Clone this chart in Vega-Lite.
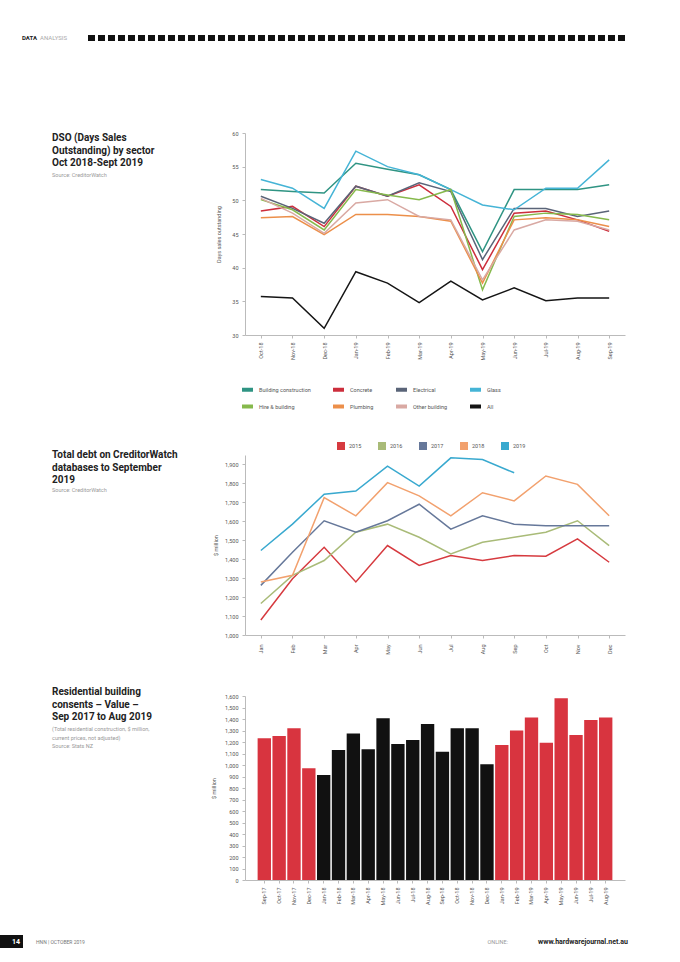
{
  "$schema": "https://vega.github.io/schema/vega-lite/v6.json",
  "background": "white",
  "padding": 0,
  "bounds": "flush",
  "align": "each",
  "spacing": 0,
  "columns": 2,
  "resolve": {"scale": {"x": "independent", "y": "independent", "color": "independent"}, "legend": {"color": "independent"}},
  "config": {
    "font": "Roboto",
    "view": {"stroke": null},
    "axis": {"labelFont": "Roboto", "labelFontSize": 5.5, "labelColor": "#555", "titleFont": "Roboto", "titleFontSize": 5.5, "titleFontWeight": "normal", "titleColor": "#555", "domainColor": "#bbb", "tickColor": "#bbb", "tickSize": 3, "grid": false},
    "legend": {"labelFont": "Roboto", "labelFontSize": 5.5, "labelColor": "#555"}
  },
  "concat": [
    {
      "width": 245, "height": 133,
      "layer": [
        {"data": {"values": [{"t": "DATA"}]},
         "mark": {"type": "text", "align": "left", "baseline": "middle", "fontSize": 6, "fontWeight": "bold", "color": "#222"},
         "encoding": {"x": {"datum": 22, "type": "quantitative", "scale": {"domain": [0, 245], "nice": false, "zero": false}, "axis": null},
                      "y": {"datum": 38, "type": "quantitative", "scale": {"domain": [0, 133], "nice": false, "zero": false, "reverse": true}, "axis": null},
                      "text": {"field": "t"}}},
        {"data": {"values": [{"t": "ANALYSIS"}]},
         "mark": {"type": "text", "align": "left", "baseline": "middle", "fontSize": 6, "color": "#aaa"},
         "encoding": {"x": {"datum": 40, "type": "quantitative"}, "y": {"datum": 38, "type": "quantitative"}, "text": {"field": "t"}}}
      ]
    },
    {
      "width": 380, "height": 133,
      "data": {"values": [{"k": "bar"}]},
      "mark": {"type": "rule", "strokeWidth": 6, "strokeDash": [7, 3], "color": "#111"},
      "encoding": {"x": {"datum": -157, "type": "quantitative", "scale": {"domain": [0, 380], "nice": false, "zero": false}, "axis": null}, "x2": {"datum": 383},
                   "y": {"datum": 38, "type": "quantitative", "scale": {"domain": [0, 133], "nice": false, "zero": false, "reverse": true}, "axis": null}}
    },
    {
      "width": 245, "height": 322,
      "layer": [
        {"data": {"values": [{"t": "DSO (Days Sales\nOutstanding) by sector\nOct 2018-Sept 2019"}]},
         "mark": {"type": "text", "align": "left", "baseline": "top", "fontSize": 10, "fontWeight": "bold", "lineBreak": "\n", "lineHeight": 12.5, "color": "#222"},
         "encoding": {"x": {"datum": 52, "type": "quantitative", "scale": {"domain": [0, 245], "nice": false, "zero": false}, "axis": null},
                      "y": {"datum": 0, "type": "quantitative", "scale": {"domain": [0, 322], "nice": false, "zero": false, "reverse": true}, "axis": null},
                      "text": {"field": "t"}}},
        {"data": {"values": [{"t": "Source: CreditorWatch"}]},
         "mark": {"type": "text", "align": "left", "baseline": "top", "fontSize": 5.5, "color": "#999"},
         "encoding": {"x": {"datum": 52, "type": "quantitative"}, "y": {"datum": 40, "type": "quantitative"}, "text": {"field": "t"}}}
      ]
    },
    {
      "width": 380, "height": 202,
      "data": {"values": [
        {"month": "Oct-18", "Building construction": 51.6, "Concrete": 48.4, "Electrical": 50.6, "Glass": 53.1, "Hire & building": 50.1, "Plumbing": 47.4, "Other building": 50.3, "All": 35.7},
        {"month": "Nov-18", "Building construction": 51.3, "Concrete": 49.1, "Electrical": 48.8, "Glass": 51.8, "Hire & building": 48.6, "Plumbing": 47.6, "Other building": 48.1, "All": 35.5},
        {"month": "Dec-18", "Building construction": 51.1, "Concrete": 46.1, "Electrical": 46.6, "Glass": 48.8, "Hire & building": 45.6, "Plumbing": 44.9, "Other building": 45.1, "All": 31.0},
        {"month": "Jan-19", "Building construction": 55.5, "Concrete": 52.1, "Electrical": 52.1, "Glass": 57.3, "Hire & building": 51.6, "Plumbing": 47.9, "Other building": 49.6, "All": 39.4},
        {"month": "Feb-19", "Building construction": 54.6, "Concrete": 50.6, "Electrical": 50.6, "Glass": 55.0, "Hire & building": 50.8, "Plumbing": 47.9, "Other building": 50.1, "All": 37.7},
        {"month": "Mar-19", "Building construction": 53.8, "Concrete": 52.3, "Electrical": 52.6, "Glass": 53.8, "Hire & building": 50.1, "Plumbing": 47.6, "Other building": 47.6, "All": 34.8},
        {"month": "Apr-19", "Building construction": 51.6, "Concrete": 49.1, "Electrical": 51.3, "Glass": 51.6, "Hire & building": 51.6, "Plumbing": 46.9, "Other building": 47.1, "All": 38.0},
        {"month": "May-19", "Building construction": 42.4, "Concrete": 39.7, "Electrical": 41.2, "Glass": 49.3, "Hire & building": 36.7, "Plumbing": 37.7, "Other building": 38.2, "All": 35.2},
        {"month": "Jun-19", "Building construction": 51.6, "Concrete": 48.1, "Electrical": 48.8, "Glass": 48.6, "Hire & building": 47.6, "Plumbing": 47.1, "Other building": 45.6, "All": 37.0},
        {"month": "Jul-19", "Building construction": 51.6, "Concrete": 48.4, "Electrical": 48.8, "Glass": 51.8, "Hire & building": 48.1, "Plumbing": 47.4, "Other building": 47.1, "All": 35.1},
        {"month": "Aug-19", "Building construction": 51.6, "Concrete": 47.1, "Electrical": 47.6, "Glass": 51.8, "Hire & building": 47.9, "Plumbing": 47.1, "Other building": 46.9, "All": 35.5},
        {"month": "Sep-19", "Building construction": 52.3, "Concrete": 45.4, "Electrical": 48.4, "Glass": 56.0, "Hire & building": 47.1, "Plumbing": 46.1, "Other building": 45.6, "All": 35.5}
      ]},
      "transform": [{"fold": ["Building construction", "Concrete", "Electrical", "Glass", "Hire & building", "Plumbing", "Other building", "All"], "as": ["sector", "dso"]}],
      "mark": {"type": "line", "strokeWidth": 1.5},
      "encoding": {
        "x": {"field": "month", "type": "ordinal", "sort": null, "axis": {"title": null, "labelAngle": -90, "labelPadding": 4}},
        "y": {"field": "dso", "type": "quantitative", "scale": {"domain": [30, 60], "nice": false, "zero": false}, "axis": {"title": "Days sales outstanding", "values": [30, 35, 40, 45, 50, 55, 60], "labelPadding": 4, "titlePadding": 10}},
        "color": {"field": "sector", "type": "nominal",
                  "scale": {"domain": ["Building construction", "Concrete", "Electrical", "Glass", "Hire & building", "Plumbing", "Other building", "All"],
                            "range": ["#2f9483", "#cc2e3c", "#5a6478", "#45b4d6", "#86b94c", "#ec8f4a", "#d9a9a3", "#151515"]},
                  "legend": {"orient": "none", "legendX": -5, "legendY": 249, "columns": 4, "direction": "horizontal", "title": null, "symbolType": "stroke", "symbolStrokeWidth": 4, "symbolSize": 120, "columnPadding": 14, "rowPadding": 0}}
      }
    },
    {
      "width": 245, "height": 241,
      "layer": [
        {"data": {"values": [{"t": "Total debt on CreditorWatch\ndatabases to September\n2019"}]},
         "mark": {"type": "text", "align": "left", "baseline": "top", "fontSize": 10, "fontWeight": "bold", "lineBreak": "\n", "lineHeight": 12.5, "color": "#222"},
         "encoding": {"x": {"datum": 52, "type": "quantitative", "scale": {"domain": [0, 245], "nice": false, "zero": false}, "axis": null},
                      "y": {"datum": -5, "type": "quantitative", "scale": {"domain": [0, 241], "nice": false, "zero": false, "reverse": true}, "axis": null},
                      "text": {"field": "t"}}},
        {"data": {"values": [{"t": "Source: CreditorWatch"}]},
         "mark": {"type": "text", "align": "left", "baseline": "top", "fontSize": 5.5, "color": "#999"},
         "encoding": {"x": {"datum": 52, "type": "quantitative"}, "y": {"datum": 33, "type": "quantitative"}, "text": {"field": "t"}}}
      ]
    },
    {
      "width": 380, "height": 180,
      "data": {"values": [
        {"month": "Jan", "2015": 1079, "2016": 1166, "2017": 1262, "2018": 1280, "2019": 1446},
        {"month": "Feb", "2015": 1297, "2016": 1315, "2017": 1437, "2018": 1315, "2019": 1585},
        {"month": "Mar", "2015": 1463, "2016": 1393, "2017": 1603, "2018": 1725, "2019": 1743},
        {"month": "Apr", "2015": 1280, "2016": 1542, "2017": 1542, "2018": 1629, "2019": 1760},
        {"month": "May", "2015": 1472, "2016": 1585, "2017": 1603, "2018": 1804, "2019": 1891},
        {"month": "Jun", "2015": 1367, "2016": 1516, "2017": 1690, "2018": 1734, "2019": 1786},
        {"month": "Jul", "2015": 1419, "2016": 1428, "2017": 1559, "2018": 1629, "2019": 1935},
        {"month": "Aug", "2015": 1393, "2016": 1489, "2017": 1629, "2018": 1751, "2019": 1926},
        {"month": "Sep", "2015": 1419, "2016": 1516, "2017": 1585, "2018": 1708, "2019": 1856},
        {"month": "Oct", "2015": 1416, "2016": 1542, "2017": 1577, "2018": 1839, "2019": null},
        {"month": "Nov", "2015": 1507, "2016": 1603, "2017": 1577, "2018": 1795, "2019": null},
        {"month": "Dec", "2015": 1384, "2016": 1472, "2017": 1577, "2018": 1629, "2019": null}
      ]},
      "transform": [{"fold": ["2015", "2016", "2017", "2018", "2019"], "as": ["year", "debt"]}],
      "mark": {"type": "line", "strokeWidth": 1.5},
      "encoding": {
        "x": {"field": "month", "type": "ordinal", "sort": null, "axis": {"title": null, "labelAngle": -90, "labelPadding": 6}},
        "y": {"field": "debt", "type": "quantitative", "scale": {"domain": [1000, 1950], "nice": false, "zero": false}, "axis": {"title": "$ million", "values": [1000, 1100, 1200, 1300, 1400, 1500, 1600, 1700, 1800, 1900], "format": ",d", "labelPadding": 4, "titlePadding": 6}},
        "color": {"field": "year", "type": "nominal",
                  "scale": {"domain": ["2015", "2016", "2017", "2018", "2019"], "range": ["#d63a3f", "#a9bb78", "#66789a", "#f2a16e", "#39a9cf"]},
                  "legend": {"orient": "none", "legendX": 92, "legendY": -13, "columns": 5, "direction": "horizontal", "title": null, "symbolType": "square", "symbolSize": 16, "symbolStrokeWidth": 4, "columnPadding": 10}}
      }
    },
    {
      "width": 245, "height": 239,
      "layer": [
        {"data": {"values": [{"t": "Residential building\nconsents – Value –\nSep 2017 to Aug 2019"}]},
         "mark": {"type": "text", "align": "left", "baseline": "top", "fontSize": 10, "fontWeight": "bold", "lineBreak": "\n", "lineHeight": 12.5, "color": "#222"},
         "encoding": {"x": {"datum": 52, "type": "quantitative", "scale": {"domain": [0, 245], "nice": false, "zero": false}, "axis": null},
                      "y": {"datum": -9, "type": "quantitative", "scale": {"domain": [0, 239], "nice": false, "zero": false, "reverse": true}, "axis": null},
                      "text": {"field": "t"}}},
        {"data": {"values": [{"t": "(Total residential construction, $ million,\ncurrent prices, not adjusted)\nSource: Stats NZ"}]},
         "mark": {"type": "text", "align": "left", "baseline": "top", "fontSize": 5.5, "lineBreak": "\n", "lineHeight": 8.5, "color": "#999"},
         "encoding": {"x": {"datum": 52, "type": "quantitative"}, "y": {"datum": 31, "type": "quantitative"}, "text": {"field": "t"}}}
      ]
    },
    {
      "width": 380, "height": 184,
      "data": {"values": [
        {"month": "Sep-17", "year": "2017", "value": 1232},
        {"month": "Oct-17", "year": "2017", "value": 1252},
        {"month": "Nov-17", "year": "2017", "value": 1319},
        {"month": "Dec-17", "year": "2017", "value": 971},
        {"month": "Jan-18", "year": "2018", "value": 913},
        {"month": "Feb-18", "year": "2018", "value": 1130},
        {"month": "Mar-18", "year": "2018", "value": 1275},
        {"month": "Apr-18", "year": "2018", "value": 1136},
        {"month": "May-18", "year": "2018", "value": 1406},
        {"month": "Jun-18", "year": "2018", "value": 1183},
        {"month": "Jul-18", "year": "2018", "value": 1217},
        {"month": "Aug-18", "year": "2018", "value": 1357},
        {"month": "Sep-18", "year": "2018", "value": 1116},
        {"month": "Oct-18", "year": "2018", "value": 1319},
        {"month": "Nov-18", "year": "2018", "value": 1319},
        {"month": "Dec-18", "year": "2018", "value": 1006},
        {"month": "Jan-19", "year": "2019", "value": 1174},
        {"month": "Feb-19", "year": "2019", "value": 1299},
        {"month": "Mar-19", "year": "2019", "value": 1414},
        {"month": "Apr-19", "year": "2019", "value": 1194},
        {"month": "May-19", "year": "2019", "value": 1580},
        {"month": "Jun-19", "year": "2019", "value": 1261},
        {"month": "Jul-19", "year": "2019", "value": 1391},
        {"month": "Aug-19", "year": "2019", "value": 1414}
      ]},
      "mark": {"type": "bar"},
      "encoding": {
        "x": {"field": "month", "type": "ordinal", "sort": null, "scale": {"paddingInner": 0.1, "paddingOuter": 0.85}, "axis": {"title": null, "labelAngle": -90, "labelPadding": 4}},
        "y": {"field": "value", "type": "quantitative", "scale": {"domain": [0, 1600], "nice": false}, "axis": {"title": "$ million", "values": [0, 100, 200, 300, 400, 500, 600, 700, 800, 900, 1000, 1100, 1200, 1300, 1400, 1500, 1600], "format": ",d", "labelPadding": 4, "titlePadding": 8}},
        "color": {"field": "year", "type": "nominal", "scale": {"domain": ["2017", "2018", "2019"], "range": ["#d8343f", "#111111", "#d8343f"]}, "legend": null}
      }
    },
    {
      "width": 245, "height": 13,
      "layer": [
        {"data": {"values": [{"k": "page"}]},
         "mark": {"type": "rect", "color": "#111"},
         "encoding": {"x": {"datum": 0, "type": "quantitative", "scale": {"domain": [0, 245], "nice": false, "zero": false}, "axis": null}, "x2": {"datum": 23},
                      "y": {"datum": 0, "type": "quantitative", "scale": {"domain": [0, 1], "nice": false, "zero": false}, "axis": null}, "y2": {"datum": 1}}},
        {"data": {"values": [{"t": "14"}]},
         "mark": {"type": "text", "align": "center", "baseline": "middle", "fontSize": 7, "fontWeight": "bold", "color": "white"},
         "encoding": {"x": {"datum": 16, "type": "quantitative"}, "y": {"datum": 0.5, "type": "quantitative"}, "text": {"field": "t"}}},
        {"data": {"values": [{"t": "HNN  |  OCTOBER 2019"}]},
         "mark": {"type": "text", "align": "left", "baseline": "middle", "fontSize": 5, "color": "#777"},
         "encoding": {"x": {"datum": 36, "type": "quantitative"}, "y": {"datum": 0.5, "type": "quantitative"}, "text": {"field": "t"}}}
      ]
    },
    {
      "width": 380, "height": 13,
      "layer": [
        {"data": {"values": [{"t": "ONLINE:"}]},
         "mark": {"type": "text", "align": "right", "baseline": "middle", "fontSize": 5.5, "color": "#999"},
         "encoding": {"x": {"datum": 263, "type": "quantitative", "scale": {"domain": [0, 380], "nice": false, "zero": false}, "axis": null},
                      "y": {"datum": 0.5, "type": "quantitative", "scale": {"domain": [0, 1], "nice": false, "zero": false}, "axis": null}, "text": {"field": "t"}}},
        {"data": {"values": [{"t": "www.hardwarejournal.net.au"}]},
         "mark": {"type": "text", "align": "right", "baseline": "middle", "fontSize": 7, "fontWeight": "bold", "color": "#222"},
         "encoding": {"x": {"datum": 383, "type": "quantitative"}, "y": {"datum": 0.5, "type": "quantitative"}, "text": {"field": "t"}}}
      ]
    }
  ]
}
